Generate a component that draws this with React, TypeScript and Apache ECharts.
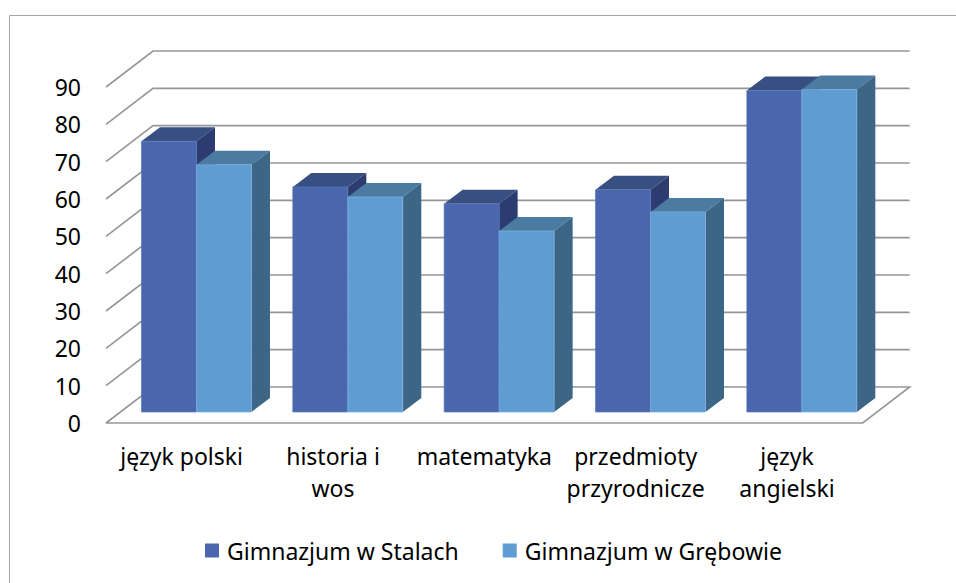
import React, { useEffect, useRef } from "react";
import * as echarts from "echarts";

const categories = ["język polski", "historia i\nwos", "matematyka", "przedmioty\nprzyrodnicze", "język\nangielski"];
const seriesNames = ["Gimnazjum w Stalach", "Gimnazjum w Grębowie"];
const stalach = [72.5, 60.3, 55.8, 59.5, 86.1];
const grebowie = [66.2, 57.6, 48.5, 53.6, 86.4];
const ticks = [0, 10, 20, 30, 40, 50, 60, 70, 80, 90];

const WALL_DX = 47, WALL_DY = -36;
const BAR_DX = 14.8, BAR_DY = -11, BAR_W = 55, DEPTH_DX = 18.5, DEPTH_DY = -14;
const palette = [
  { front: "#4A66AC", top: "#384F82", side: "#2C3C70", edge: "#5A76BC" },
  { front: "#5F9CD2", top: "#4B7BA1", side: "#3D6585", edge: "#7FB2E0" },
];
const FONT = "Noto Sans";

function barSeries(name: string, values: number[], idx: number) {
  const c = palette[idx];
  return {
    type: "custom", name, data: values.map((v, i) => [i, v]),
    itemStyle: { color: c.front }, z: 5 + idx, clip: false,
    renderItem: (_: any, api: any) => {
      const cat = api.value(0), val = api.value(1);
      const top = api.coord([cat, val]), base = api.coord([cat, 0]);
      const x0 = top[0] + BAR_DX + (idx === 0 ? -BAR_W : 0), x1 = x0 + BAR_W;
      const yT = top[1] + BAR_DY, yB = base[1] + BAR_DY;
      return {
        type: "group",
        children: [
          { type: "polygon", shape: { points: [[x0, yT], [x0 + DEPTH_DX, yT + DEPTH_DY], [x1 + DEPTH_DX, yT + DEPTH_DY], [x1, yT]] }, style: { fill: c.top } },
          { type: "polygon", shape: { points: [[x1, yT], [x1 + DEPTH_DX, yT + DEPTH_DY], [x1 + DEPTH_DX, yB + DEPTH_DY], [x1, yB]] }, style: { fill: c.side } },
          { type: "rect", shape: { x: x0, y: yT, width: BAR_W, height: yB - yT }, style: { fill: c.front, stroke: c.edge, lineWidth: 0.7 } },
        ],
      };
    },
  };
}

export default function App() {
  const ref = useRef<HTMLDivElement>(null);
  useEffect(() => {
    const chart = echarts.init(ref.current!, null, { renderer: "svg" });
    chart.setOption({
      animation: false,
      backgroundColor: "#fff",
      textStyle: { fontFamily: FONT },
      grid: { left: 106, right: 93.3, top: 87, bottom: 160 },
      legend: {
        left: 200, top: 534, icon: "rect", itemWidth: 14, itemHeight: 14, itemGap: 44,
        data: seriesNames,
        textStyle: { fontFamily: FONT, fontSize: 23, color: "#000", padding: [0, 0, 0, 3] },
      },
      xAxis: {
        type: "category", data: categories,
        axisLine: { show: false }, axisTick: { show: false },
        axisLabel: { color: "#000", fontSize: 23, fontFamily: FONT, lineHeight: 32, margin: 17, interval: 0 },
      },
      yAxis: {
        type: "value", min: 0, max: 90, interval: 10,
        axisLine: { show: false }, axisTick: { show: false }, splitLine: { show: false },
        axisLabel: { color: "#000", fontSize: 23, fontFamily: FONT, margin: 25 },
      },
      graphic: [
        { type: "line", shape: { x1: 9.5, y1: 15.5, x2: 956, y2: 15.5 }, style: { stroke: "#a6a6a6", lineWidth: 1 } },
        { type: "line", shape: { x1: 9.5, y1: 15.5, x2: 9.5, y2: 583 }, style: { stroke: "#a6a6a6", lineWidth: 1 } },
      ],
      series: [
        {
          type: "custom", silent: true, z: 1, clip: false, data: ticks.map((t) => [0, t]),
          renderItem: (params: any, api: any) => {
            const t = api.value(1);
            const band = api.size([1, 0])[0];
            const first = api.coord([0, t]);
            const last = api.coord([categories.length - 1, t]);
            const ax = first[0] - band / 2, bx = last[0] + band / 2, y = first[1];
            const pts = [[ax, y], [ax + WALL_DX, y + WALL_DY], [bx + WALL_DX, y + WALL_DY]];
            if (t === 0) pts.push([bx, y], [ax, y]);
            return { type: "polyline", shape: { points: pts }, style: { fill: "none", stroke: "#969696", lineWidth: 1.6 } };
          },
        },
        barSeries(seriesNames[0], stalach, 0),
        barSeries(seriesNames[1], grebowie, 1),
      ],
    });
    return () => chart.dispose();
  }, []);
  return <div ref={ref} style={{ position: "fixed", left: 0, top: 0, width: 956, height: 583 }} />;
}
